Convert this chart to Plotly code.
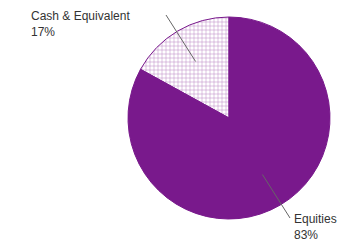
import math
import plotly.graph_objects as go

labels = ["Cash & Equivalent", "Equities"]
values = [17, 83]
purple = "#79198c"

W, H = 360, 244
cx, cy, R = 229, 118, 101

total = sum(values)
cash_angle = values[0] / total * 360

fig = go.Figure(go.Pie(
    labels=labels, values=values, sort=False,
    direction="clockwise", rotation=-cash_angle,
    textinfo="none", hoverinfo="label+percent",
    marker=dict(colors=["white", purple],
                line=dict(color=purple, width=1),
                pattern=dict(shape=["+", ""], fgcolor=purple, bgcolor="white",
                             size=4, solidity=0.25, fillmode="overlay")),
    domain=dict(x=[(cx - R) / W, (cx + R) / W], y=[1 - (cy + R) / H, 1 - (cy - R) / H]),
    showlegend=False,
))

# leader lines from slice mid-angles (slices run counterclockwise from 12 o'clock)
start = 90.0
outer = [(166, 15), (290, 218)]
shapes = []
annos = []
text_pos = [(29, 24), (292, 227)]
for i, v in enumerate(values):
    ang = start + sum(values[:i]) / total * 360 + v / total * 180
    r = 0.65 * R
    px = cx + r * math.cos(math.radians(ang))
    py = cy - r * math.sin(math.radians(ang))
    ox, oy = outer[i]
    shapes.append(dict(type="line", xref="paper", yref="paper",
                       x0=px / W, y0=1 - py / H, x1=ox / W, y1=1 - oy / H,
                       line=dict(color="#666666", width=1)))
    tx, ty = text_pos[i]
    annos.append(dict(xref="paper", yref="paper", x=tx / W, y=1 - ty / H,
                      xanchor="left", yanchor="middle", align="left", showarrow=False,
                      text=f"{labels[i]}<br>{v}%",
                      font=dict(family="Liberation Sans, Arial, sans-serif", size=12, color="#333333")))

fig.update_layout(width=W, height=H, margin=dict(l=0, r=0, t=0, b=0),
                  paper_bgcolor="white", plot_bgcolor="white",
                  shapes=shapes, annotations=annos)
fig.write_html("out.html", post_script="document.body.style.margin='0';",
               config={"displayModeBar": False})
